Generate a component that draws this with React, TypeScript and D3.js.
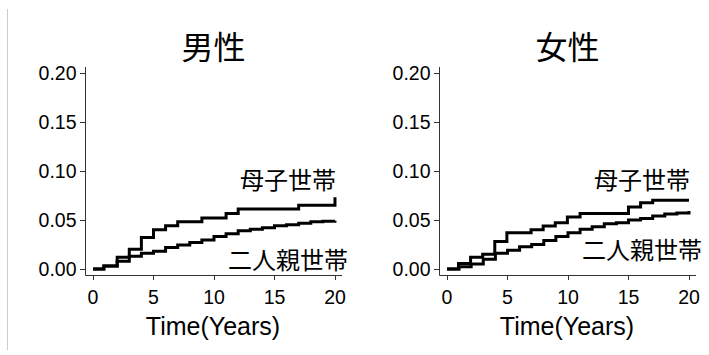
import React from "react";
import * as d3 from "d3";

// ---- data ----
const panelTitles = ["男性", "女性"];
const seriesNames = ["母子世帯", "二人親世帯"];
const xTicks = [0, 5, 10, 15, 20];
const yTicks = [0, 0.05, 0.1, 0.15, 0.2];
const yTickLabels = ["0.00", "0.05", "0.10", "0.15", "0.20"];
const axisTitle = "Time(Years)";

// Male
const maleMotherT = [0, 0.9, 2, 3, 4, 5, 6, 7, 9, 11, 12, 17, 20];
const maleMotherV = [0, 0.003, 0.012, 0.02, 0.032, 0.04, 0.044, 0.048, 0.052, 0.0566, 0.061, 0.065, 0.073];
const maleTwoT = [0, 0.9, 2, 3, 4, 5, 6, 7, 8, 9, 10, 11, 12, 13, 14, 15, 16, 17, 18, 19, 20];
const maleTwoV = [0, 0.003, 0.008, 0.013, 0.016, 0.018, 0.022, 0.0245, 0.027, 0.0295, 0.033, 0.036, 0.039, 0.0405, 0.042, 0.044, 0.045, 0.0465, 0.048, 0.0485, 0.049];

// Female
const femMotherT = [0, 0.95, 1.95, 2.95, 3.95, 4.95, 6.95, 7.95, 8.95, 9.95, 11, 15, 16, 17, 20];
const femMotherV = [0, 0.0055, 0.012, 0.015, 0.028, 0.037, 0.04, 0.0437, 0.047, 0.053, 0.0566, 0.063, 0.0675, 0.07, 0.07];
const femTwoT = [0, 1, 2, 3, 4, 5, 6, 7, 8, 9, 10, 11, 12, 13, 14, 15, 16, 17, 18, 19, 20];
const femTwoV = [0, 0.0024, 0.005, 0.01, 0.016, 0.019, 0.0227, 0.025, 0.029, 0.033, 0.037, 0.0405, 0.043, 0.046, 0.047, 0.05, 0.0515, 0.054, 0.056, 0.057, 0.059];

const latin = "'Liberation Sans', Arial, sans-serif";
const cjk = "'Noto Sans CJK JP', 'Noto Sans CJK SC', sans-serif";

type PanelProps = {
  x0: number;
  x1: number;
  title: string;
  curves: { t: number[]; v: number[] }[];
  motherLabel: { x: number; y: number };
  twoLabel: { x: number; y: number };
};

const yTop = 67;
const yBottom = 275;

function Panel({ x0, x1, title, curves, motherLabel, twoLabel }: PanelProps) {
  const x = d3.scaleLinear().domain([-0.66, 20.58]).range([x0, x1]);
  const y = d3.scaleLinear().domain([-0.0061, 0.2056]).range([yBottom, yTop]);
  const line = d3
    .line<[number, number]>()
    .x((d) => x(d[0]))
    .y((d) => y(d[1]))
    .curve(d3.curveStepAfter);
  const cx = (x0 + x1) / 2;
  return (
    <g>
      <text x={cx} y={59} textAnchor="middle" fontFamily={cjk} fontSize={32} fill="#000">
        {title}
      </text>
      {/* axes */}
      <path d={`M${x0 + 0.5},${yTop}V${yBottom + 0.5}H${x1}`} fill="none" stroke="#333" strokeWidth={1} />
      {yTicks.map((t, i) => (
        <g key={"y" + i}>
          <line x1={x0 - 5} x2={x0} y1={Math.round(y(t)) + 0.5} y2={Math.round(y(t)) + 0.5} stroke="#333" />
          <text x={x0 - 8.5} y={y(t) + 7} textAnchor="end" fontFamily={latin} fontSize={19.5} fill="#000">
            {yTickLabels[i]}
          </text>
        </g>
      ))}
      {xTicks.map((t, i) => (
        <g key={"x" + i}>
          <line x1={Math.round(x(t)) + 0.5} x2={Math.round(x(t)) + 0.5} y1={yBottom} y2={yBottom + 5} stroke="#333" />
          <text x={x(t)} y={304} textAnchor="middle" fontFamily={latin} fontSize={19.5} fill="#000">
            {String(t)}
          </text>
        </g>
      ))}
      <text x={cx - 0.5} y={335} textAnchor="middle" fontFamily={latin} fontSize={25} fill="#000">
        {axisTitle}
      </text>
      {curves.map((c, i) => (
        <path
          key={"c" + i}
          d={line(c.t.map((t, j) => [t, c.v[j]] as [number, number])) || ""}
          fill="none"
          stroke="#000"
          strokeWidth={3}
          strokeLinejoin="miter"
        />
      ))}
      <text x={motherLabel.x} y={motherLabel.y} textAnchor="end" fontFamily={cjk} fontSize={24} fill="#000">
        {seriesNames[0]}
      </text>
      <text x={twoLabel.x} y={twoLabel.y} textAnchor="end" fontFamily={cjk} fontSize={24} fill="#000">
        {seriesNames[1]}
      </text>
    </g>
  );
}

export default function App() {
  return (
    <svg width={709} height={355} style={{ position: "absolute", left: 0, top: 0, background: "#fff" }}>
      <rect x={0} y={0} width={709} height={355} fill="#fff" />
      <line x1={7.5} x2={7.5} y1={9} y2={350} stroke="#cccccc" strokeWidth={1} />
      <Panel
        x0={85}
        x1={342}
        title={panelTitles[0]}
        curves={[
          { t: maleMotherT, v: maleMotherV },
          { t: maleTwoT, v: maleTwoV },
        ]}
        motherLabel={{ x: 336, y: 189 }}
        twoLabel={{ x: 348, y: 269 }}
      />
      <Panel
        x0={439}
        x1={696}
        title={panelTitles[1]}
        curves={[
          { t: femMotherT, v: femMotherV },
          { t: femTwoT, v: femTwoV },
        ]}
        motherLabel={{ x: 690, y: 189 }}
        twoLabel={{ x: 702, y: 259 }}
      />
    </svg>
  );
}
